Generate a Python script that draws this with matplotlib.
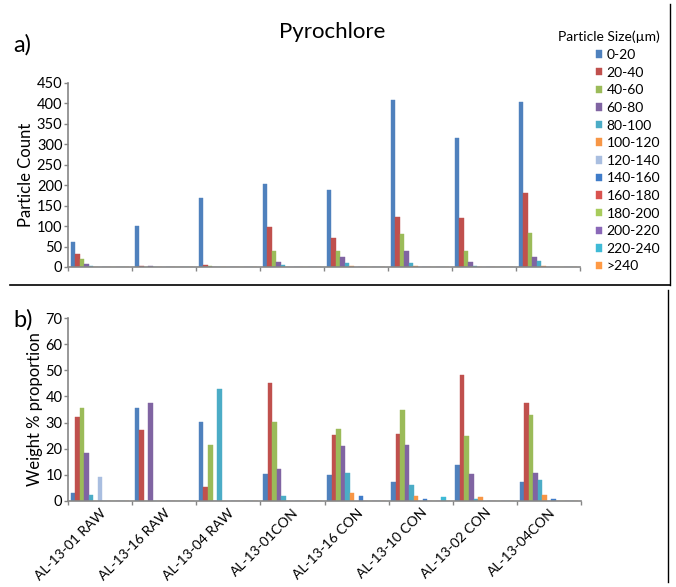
import matplotlib
matplotlib.use('Agg')
import matplotlib.pyplot as plt
import numpy as np

plt.rcParams['font.family'] = ['Lato', 'DejaVu Sans']

# Data
samples = ['AL-13-01 RAW', 'AL-13-16 RAW', 'AL-13-04 RAW', 'AL-13-01CON',
           'AL-13-16 CON', 'AL-13-10 CON', 'AL-13-02 CON', 'AL-13-04CON']
size_classes = ['0-20', '20-40', '40-60', '60-80', '80-100', '100-120',
                '120-140', '140-160', '160-180', '180-200', '200-220',
                '220-240', '>240']
colors = ['#4F81BD', '#C0504D', '#9BBB59', '#8064A2', '#4BACC6', '#F79646',
          '#A9BEE0', '#3F7CC9', '#D9534F', '#A8CC5C', '#8A68B8', '#3FBAD6',
          '#FF9A45']

# particle counts (rows = sample, cols = size class)
counts = [
    [60, 31, 20, 7, 2, 1, 1, 0, 0, 0, 0, 0, 0],
    [100, 3, 1, 2, 1, 0, 0, 0, 0, 0, 0, 0, 0],
    [168, 6, 3, 1, 1, 0, 0, 0, 0, 0, 0, 0, 0],
    [203, 97, 40, 12, 4, 1, 0, 0, 0, 0, 0, 0, 0],
    [189, 70, 40, 24, 11, 2, 1, 0, 0, 0, 0, 0, 0],
    [408, 123, 81, 38, 9, 3, 1, 0, 0, 0, 0, 0, 0],
    [315, 121, 39, 12, 2, 1, 0, 0, 0, 0, 0, 0, 0],
    [404, 180, 83, 24, 15, 3, 1, 0, 0, 0, 0, 0, 0],
]

# weight % proportion
weights = [
    [3.0, 32.0, 35.5, 18.5, 2.2, 0, 9.0, 0, 0, 0, 0, 0, 0],
    [35.7, 27.0, 0, 37.3, 0, 0, 0, 0, 0, 0, 0, 0, 0],
    [30.3, 5.3, 21.5, 0, 43.0, 0, 0, 0, 0, 0, 0, 0, 0],
    [10.3, 45.3, 30.2, 12.3, 2.0, 0, 0, 0, 0, 0, 0, 0, 0],
    [9.8, 25.1, 27.4, 21.2, 10.7, 3.2, 0, 2.0, 0, 0, 0, 0, 0],
    [7.3, 25.5, 35.0, 21.5, 6.0, 1.8, 0, 0.7, 0, 0, 0, 1.4, 0],
    [13.8, 48.3, 24.9, 10.3, 0.6, 1.4, 0, 0, 0, 0, 0, 0, 0],
    [7.2, 37.4, 32.9, 10.8, 8.2, 2.3, 0, 0.8, 0, 0, 0, 0, 0],
]

counts = np.array(counts)
weights = np.array(weights)

W, H = 676, 587
fig = plt.figure(figsize=(W / 100, H / 100), dpi=100)


def px_axes(left, right, top, bottom):
    return fig.add_axes([left / W, 1 - bottom / H, (right - left) / W,
                         (bottom - top) / H])


ax1 = px_axes(68, 580, 83, 267)
ax2 = px_axes(68, 581, 318, 501)

n = len(size_classes)
bw = 1 / 14.2
centers = np.arange(len(samples)) + 0.5


def draw_bars(ax, data):
    bars = []
    for k in range(n):
        b = ax.bar(centers + (k - (n - 1) / 2) * bw, data[:, k], width=bw,
                   color=colors[k], edgecolor=colors[k], linewidth=0.3,
                   label=size_classes[k])
        bars.append(b)
    ax.set_xlim(0, len(samples))
    ax.set_xticks(np.arange(len(samples) + 1))
    for s in ['top', 'right']:
        ax.spines[s].set_visible(False)
    for s in ['left', 'bottom']:
        ax.spines[s].set_color('#868686')
        ax.spines[s].set_linewidth(1.2)
    ax.tick_params(axis='both', colors='#868686', length=3, width=1,
                   labelcolor='black', labelsize=10.5, pad=1)
    return bars


bars = draw_bars(ax1, counts)
ax1.set_ylim(0, 450)
ax1.set_yticks(np.arange(0, 451, 50))
ax1.set_xticklabels([])
ax1.set_ylabel('Particle Count', fontsize=12, labelpad=2)

draw_bars(ax2, weights)
ax2.set_ylim(0, 70)
ax2.set_yticks(np.arange(0, 71, 10))
ax2.set_xticks(centers, minor=True)
ax2.set_xticklabels([])
ax2.set_xticklabels(samples, minor=True, rotation=45, ha='right',
                    rotation_mode='anchor', fontsize=10)
ax2.tick_params(axis='x', which='minor', length=0, pad=4)
ax2.set_ylabel('Weight % proportion', fontsize=12, labelpad=2)

fig.text(332 / W, 1 - 32 / H, 'Pyrochlore', fontsize=16, ha='center',
         va='center')
fig.text(13 / W, 1 - 45 / H, 'a)', fontsize=17, ha='left', va='center')
fig.text(13 / W, 1 - 320 / H, 'b)', fontsize=17, ha='left', va='center')

leg = fig.legend(handles=bars, labels=size_classes, loc='upper left',
                 bbox_to_anchor=(596 / W, 1 - 49 / H), frameon=False,
                 fontsize=10, handlelength=0.45, handleheight=0.45,
                 handletextpad=0.3, labelspacing=0.405, borderpad=0,
                 borderaxespad=0)
fig.text(609 / W, 1 - 37 / H, 'Particle Size(µm)', fontsize=10,
         ha='center', va='center')

# panel frame lines
fig.add_artist(plt.Line2D([10 / W, 670 / W], [1 - 285 / H, 1 - 285 / H],
                          color='black', linewidth=1.2))
fig.add_artist(plt.Line2D([670 / W, 670 / W], [1 - 4 / H, 1 - 285 / H],
                          color='black', linewidth=1.0))
fig.add_artist(plt.Line2D([668 / W, 668 / W], [1 - 290 / H, 1 - 582 / H],
                          color='black', linewidth=1.0))

fig.savefig('out.png', dpi=100)
